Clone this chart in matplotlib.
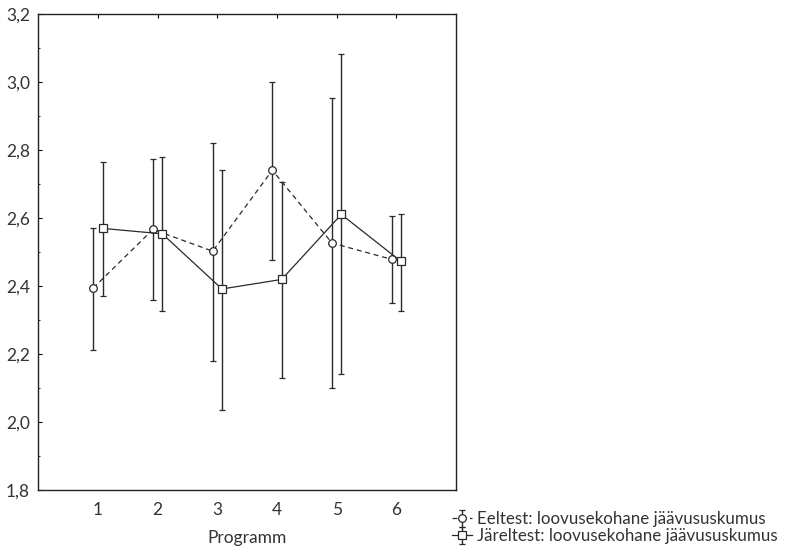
import matplotlib
matplotlib.use("Agg")
import matplotlib.pyplot as plt
import numpy as np

# andmed (loetud jooniselt)
programm = [1, 2, 3, 4, 5, 6]

eel_mean = [2.395, 2.567, 2.503, 2.741, 2.527, 2.479]
eel_low = [2.212, 2.359, 2.180, 2.478, 2.100, 2.350]
eel_high = [2.570, 2.773, 2.820, 3.000, 2.954, 2.606]

jar_mean = [2.570, 2.554, 2.392, 2.420, 2.611, 2.473]
jar_low = [2.371, 2.326, 2.037, 2.130, 2.141, 2.328]
jar_high = [2.766, 2.781, 2.743, 2.706, 3.082, 2.611]

yticks = [1.8, 2.0, 2.2, 2.4, 2.6, 2.8, 3.0, 3.2]
ytick_labels = ["1,8", "2,0", "2,2", "2,4", "2,6", "2,8", "3,0", "3,2"]

label_eel = "Eeltest: loovusekohane jäävususkumus"
label_jar = "Järeltest: loovusekohane jäävususkumus"

plt.rcParams['font.family'] = ['Lato', 'DejaVu Sans']
font1 = {'size': 12.5, 'color': '#333333'}

fig = plt.figure(figsize=(8.01, 5.48), dpi=100)
ax = fig.add_axes([0.0478, 0.105, 0.5215, 0.8695])

x = np.array(programm, dtype=float)
off = 0.078
c = '#2a2a2a'

eel_err = [np.array(eel_mean) - np.array(eel_low), np.array(eel_high) - np.array(eel_mean)]
jar_err = [np.array(jar_mean) - np.array(jar_low), np.array(jar_high) - np.array(jar_mean)]

e1 = ax.errorbar(x - off, eel_mean, yerr=eel_err, color=c, ecolor=c,
                 elinewidth=1.0, capsize=2.5, capthick=1.0, lw=0.9, ls=(0, (4, 3)),
                 marker='o', ms=5.5, mfc='white', mec=c, mew=0.9, label=label_eel)
e2 = ax.errorbar(x + off, jar_mean, yerr=jar_err, color=c, ecolor=c,
                 elinewidth=1.0, capsize=2.5, capthick=1.0, lw=0.9, ls='-',
                 marker='s', ms=5.5, mfc='white', mec=c, mew=0.9, label=label_jar)

ax.set_xlim(0, 7)
ax.set_ylim(1.8, 3.2)
ax.set_xticks(programm)
ax.set_xticklabels([str(p) for p in programm], fontdict=font1)
ax.set_yticks(yticks)
ax.set_yticklabels(ytick_labels, fontdict=font1)
ax.set_yticks(np.arange(1.9, 3.2, 0.2), minor=True)

ax.tick_params(axis='x', direction='in', top=True, bottom=False, length=3, pad=8)
ax.tick_params(axis='y', which='major', direction='in', length=3, pad=6)
ax.tick_params(axis='y', which='minor', direction='in', length=1.5)
ax.set_xlabel("Programm", fontdict=font1, labelpad=9)

for s in ax.spines.values():
    s.set_linewidth(1.0)
    s.set_color('#222222')

leg = fig.legend(handles=[e1, e2], labels=[label_eel, label_jar],
                 loc='lower left', bbox_to_anchor=(452 / 801, 4 / 548), frameon=False,
                 prop={'size': 12.2}, handlelength=1.2, handletextpad=0.3,
                 labelspacing=0.05, borderpad=0, borderaxespad=0)
for t in leg.get_texts():
    t.set_color('#333333')

fig.savefig("out.png", dpi=100)
